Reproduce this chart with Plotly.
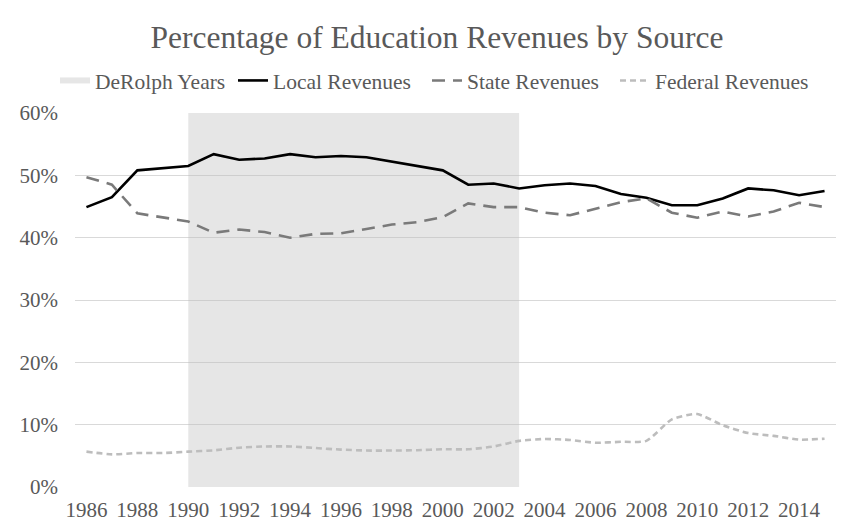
import plotly.graph_objects as go

years = list(range(1986, 2016))
local = [44.9, 46.5, 50.8, 51.2, 51.5, 53.4, 52.5, 52.7, 53.4, 52.9,
         53.1, 52.9, 52.2, 51.6, 50.8, 48.5, 48.7, 47.9, 48.4, 48.7,
         48.3, 47.0, 46.4, 45.2, 45.2, 46.3, 47.9, 47.6, 46.8, 47.5]
state = [49.7, 48.5, 43.9, 43.3, 42.6, 40.8, 41.3, 40.9, 40.0, 40.6,
         40.7, 41.4, 42.1, 42.5, 43.3, 45.5, 44.9, 44.9, 44.0, 43.6,
         44.6, 45.7, 46.3, 44.0, 43.2, 44.2, 43.4, 44.2, 45.6, 44.9]
federal = [5.67, 5.24, 5.45, 5.45, 5.67, 5.88, 6.3, 6.5, 6.5, 6.25,
           6.0, 5.85, 5.85, 5.9, 6.05, 6.05, 6.5, 7.4, 7.7, 7.55,
           7.1, 7.25, 7.4, 10.85, 11.7, 9.9, 8.65, 8.2, 7.6, 7.75]
derolph_years = [1990, 2003]
derolph_level = [60, 60]
tick_years = list(range(1986, 2015, 2))
y_ticks = [0, 10, 20, 30, 40, 50, 60]

FONT = "Liberation Serif"
GREY_TXT = "#595959"

PLOT_L, PLOT_W = 67, 761
# page x where each legend entry's text should begin (page = figure + 8)
legend_text_x = [95, 273, 467, 655]
legend_names = ["legend", "legend2", "legend3", "legend4"]

fig = go.Figure()
fig.add_trace(go.Scatter(
    x=derolph_years, y=derolph_level, name="DeRolph Years",
    mode="none", fill="tozeroy", fillcolor="rgba(190,190,190,0.38)",
    hoverinfo="skip", legend="legend"))
fig.add_trace(go.Scatter(
    x=years, y=local, name="Local Revenues", mode="lines",
    line=dict(color="#000000", width=2.6), legend="legend2"))
fig.add_trace(go.Scatter(
    x=years, y=state, name="State Revenues", mode="lines",
    line=dict(color="#7a7a7a", width=2.6, dash="13px,8px"), legend="legend3"))
fig.add_trace(go.Scatter(
    x=years, y=federal, name="Federal Revenues", mode="lines",
    line=dict(color="#bdbdbd", width=2.6, dash="6px,4px", shape="spline", smoothing=0.6),
    legend="legend4"))

legends = {}
for name, tx in zip(legend_names, legend_text_x):
    left = tx - 8 - 40
    legends[name] = dict(
        orientation="h", x=(left - PLOT_L) / PLOT_W, xanchor="left",
        y=1.087, yanchor="middle",
        font=dict(family=FONT, size=21.5, color=GREY_TXT),
        bgcolor="rgba(0,0,0,0)", itemwidth=30, borderwidth=0)

fig.update_layout(
    width=841, height=519,
    margin=dict(l=PLOT_L, r=13, t=105, b=40, autoexpand=False),
    paper_bgcolor="white", plot_bgcolor="white",
    font=dict(family=FONT, color=GREY_TXT, size=21),
    title=dict(text="Percentage of Education Revenues by Source",
               x=0.51, xanchor="center", y=0.944, yanchor="middle",
               yref="container",
               font=dict(family=FONT, size=31.5, color=GREY_TXT)),
    showlegend=True,
    **legends,
)
fig.update_xaxes(
    range=[1985.55, 2015.45], tickvals=tick_years,
    ticktext=[str(t) for t in tick_years],
    showgrid=False, zeroline=False, showline=False, ticks="",
    ticklabelstandoff=8, automargin=False,
    tickfont=dict(family=FONT, size=21, color=GREY_TXT))
fig.update_yaxes(
    range=[0, 60], tickvals=y_ticks, ticktext=[f"{v}%" for v in y_ticks],
    showgrid=True, gridcolor="#d9d9d9", gridwidth=1,
    zeroline=False, showline=False, ticks="",
    ticklabelstandoff=16, automargin=False,
    tickfont=dict(family=FONT, size=21, color=GREY_TXT))

fig.write_html("out.html")
